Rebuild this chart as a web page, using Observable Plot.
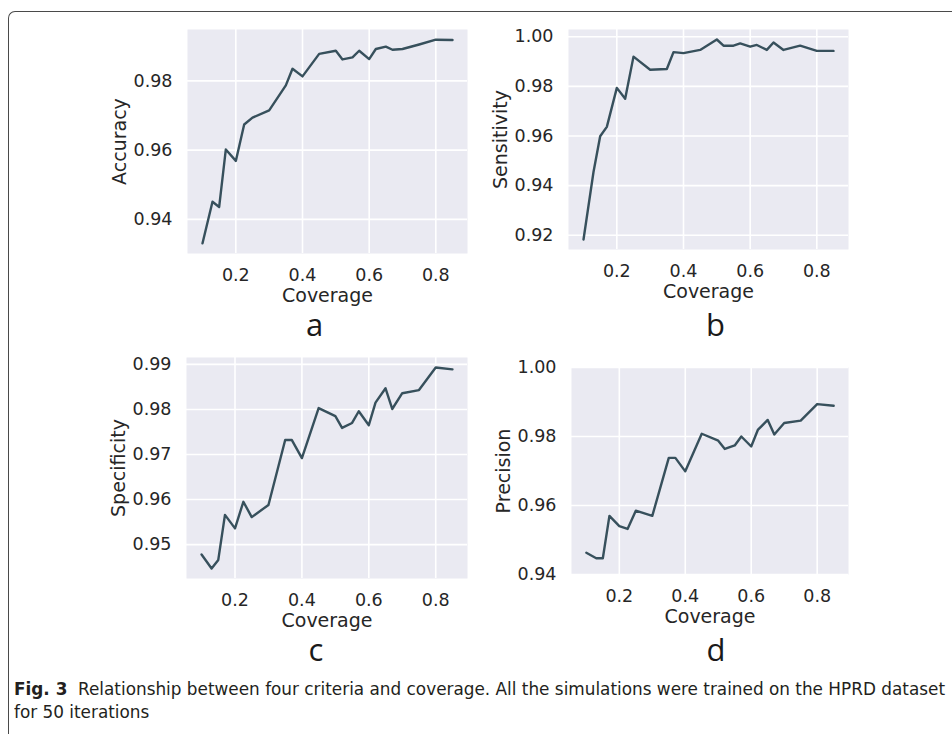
<!DOCTYPE html>
<html>
<head>
<meta charset="utf-8">
<script src="https://cdn.jsdelivr.net/npm/d3@7"></script>
<script src="https://cdn.jsdelivr.net/npm/@observablehq/plot@0.6"></script>
<style>
html, body { margin: 0; padding: 0; background: #fff; width: 952px; height: 734px; overflow: hidden; }
#page { position: relative; width: 952px; height: 734px; overflow: hidden; }
#border { position: absolute; left: 8px; top: 11px; width: 1000px; height: 800px;
  border-top: 1.3px solid #4a4a4a; border-left: 1.3px solid #4a4a4a; border-top-left-radius: 7px; }
.panel { position: absolute; }
.panel svg { overflow: visible; }
g[aria-label="x-axis label"], g[aria-label="y-axis label"] { font-size: 19px; }
#caption { position: absolute; left: 14px; top: 677px; font-family: "Liberation Sans Narrow", "DejaVu Sans Condensed", "Open Sans", sans-serif;
  font-size: 18px; line-height: 23px; color: #231f20; white-space: nowrap; transform-origin: left top; }
</style>
</head>
<body>
<div id="page">
  <div id="border"></div>
  <div id="caption"><div id="cap1"><b>Fig. 3</b>&nbsp; Relationship between four criteria and coverage. All the simulations were trained on the HPRD dataset</div><div id="cap2">for 50 iterations</div></div>
</div>
<script>
// ---- data ----
const coverage = [0.1, 0.13, 0.15, 0.17, 0.2, 0.225, 0.25, 0.3, 0.35, 0.37, 0.4, 0.45, 0.5, 0.52, 0.55, 0.57, 0.6, 0.62, 0.65, 0.67, 0.7, 0.75, 0.8, 0.85];
const accuracy = [0.9331, 0.9451, 0.9436, 0.9602, 0.9569, 0.9674, 0.9694, 0.9715, 0.9787, 0.9835, 0.9813, 0.9878, 0.9887, 0.9862, 0.9868, 0.9887, 0.9863, 0.9892, 0.9899, 0.9890, 0.9892, 0.9905, 0.9919, 0.9918];
const sensitivity = [0.9183, 0.9455, 0.9599, 0.9637, 0.9794, 0.9750, 0.9920, 0.9867, 0.9870, 0.9938, 0.9934, 0.9947, 0.9989, 0.9964, 0.9964, 0.9973, 0.9960, 0.9967, 0.9947, 0.9977, 0.9947, 0.9964, 0.9943, 0.9943];
const specificity = [0.9478, 0.9447, 0.9466, 0.9566, 0.9536, 0.9595, 0.9561, 0.9588, 0.9732, 0.9732, 0.9692, 0.9803, 0.9785, 0.9759, 0.9770, 0.9796, 0.9765, 0.9815, 0.9847, 0.9801, 0.9836, 0.9843, 0.9893, 0.9889];
const precision = [0.9463, 0.9447, 0.9447, 0.9570, 0.9540, 0.9532, 0.9585, 0.9570, 0.9738, 0.9738, 0.9699, 0.9808, 0.9788, 0.9764, 0.9774, 0.9800, 0.9771, 0.9819, 0.9848, 0.9806, 0.9839, 0.9846, 0.9894, 0.9889];

const coverageTicks = [0.2, 0.4, 0.6, 0.8];
const accuracyTicks = [0.94, 0.96, 0.98];
const sensitivityTicks = [0.92, 0.94, 0.96, 0.98, 1.00];
const specificityTicks = [0.95, 0.96, 0.97, 0.98, 0.99];
const precisionTicks = [0.94, 0.96, 0.98, 1.00];
const precisionLimits = [0.94, 1.00];

const panelLetters = ["a", "b", "c", "d"];
const criteriaNames = ["Accuracy", "Sensitivity", "Specificity", "Precision"];
const xLabel = "Coverage";

// ---- layout / style ----
const panels = [
  {letter: panelLetters[0], label: criteriaNames[0], values: accuracy, ticks: accuracyTicks, limits: null, frame: [187, 29, 467, 253], letterDx: -13, letterDy: 82},
  {letter: panelLetters[1], label: criteriaNames[1], values: sensitivity, ticks: sensitivityTicks, limits: null, frame: [568, 29, 848, 249], letterDx: 7, letterDy: 86},
  {letter: panelLetters[2], label: criteriaNames[2], values: specificity, ticks: specificityTicks, limits: null, frame: [186, 357, 467, 578], letterDx: -11, letterDy: 82},
  {letter: panelLetters[3], label: criteriaNames[3], values: precision, ticks: precisionTicks, limits: precisionLimits, frame: [571, 367, 848, 574], letterDx: 6, letterDy: 86}
];

function padded(ext, f) {
  const r = ext[1] - ext[0];
  return [ext[0] - r * f, ext[1] + r * f];
}
const xDomain = padded(d3.extent(coverage), 0.06);

const page = document.getElementById("page");
const mL = 100, mT = 12, mR = 12, mB = 100;

for (const p of panels) {
  const [L, T, R, B] = p.frame;
  const rows = p.values.map((v, i) => ({coverage: coverage[i], value: v}));
  const yDomain = p.limits ?? padded(d3.extent(p.values), 0.05);
  const chart = Plot.plot({
    width: R - L + mL + mR,
    height: B - T + mT + mB,
    marginLeft: mL, marginTop: mT, marginRight: mR, marginBottom: mB,
    style: {fontFamily: "'DejaVu Sans', sans-serif", fontSize: "17.5px", color: "#262626", background: "transparent", overflow: "visible"},
    x: {domain: xDomain},
    y: {domain: yDomain},
    marks: [
      Plot.frame({fill: "#EAEAF2", stroke: "none"}),
      Plot.gridX(coverageTicks, {stroke: "#ffffff", strokeOpacity: 1, strokeWidth: 1.6}),
      Plot.gridY(p.ticks, {stroke: "#ffffff", strokeOpacity: 1, strokeWidth: 1.6}),
      Plot.axisX(coverageTicks, {tickSize: 0, tickPadding: 15, tickFormat: d3.format(".1f"), label: xLabel, labelAnchor: "center", labelOffset: 48, labelArrow: "none"}),
      Plot.axisY(p.ticks, {tickSize: 0, tickPadding: 15, tickFormat: d3.format(".2f"), label: p.label, labelAnchor: "center", labelOffset: 75, labelArrow: "none"}),
      Plot.line(rows, {x: "coverage", y: "value", stroke: "#37505c", strokeWidth: 2.4, strokeLinejoin: "round", strokeLinecap: "round"}),
      Plot.text([p.letter], {frameAnchor: "bottom", dx: p.letterDx, dy: p.letterDy, lineAnchor: "bottom", fontSize: 31, fontFamily: "'Open Sans', sans-serif", fill: "#1a1a1a"})
    ]
  });
  const wrap = document.createElement("div");
  wrap.className = "panel";
  wrap.style.left = (L - mL) + "px";
  wrap.style.top = (T - mT) + "px";
  wrap.appendChild(chart);
  page.appendChild(wrap);
}

// fit caption to its measured width in the reference
const cap = document.getElementById("caption");
const c1 = document.getElementById("cap1");
const w = c1.getBoundingClientRect().width;
cap.style.transform = `scaleX(${931 / w})`;
</script>
</body>
</html>
